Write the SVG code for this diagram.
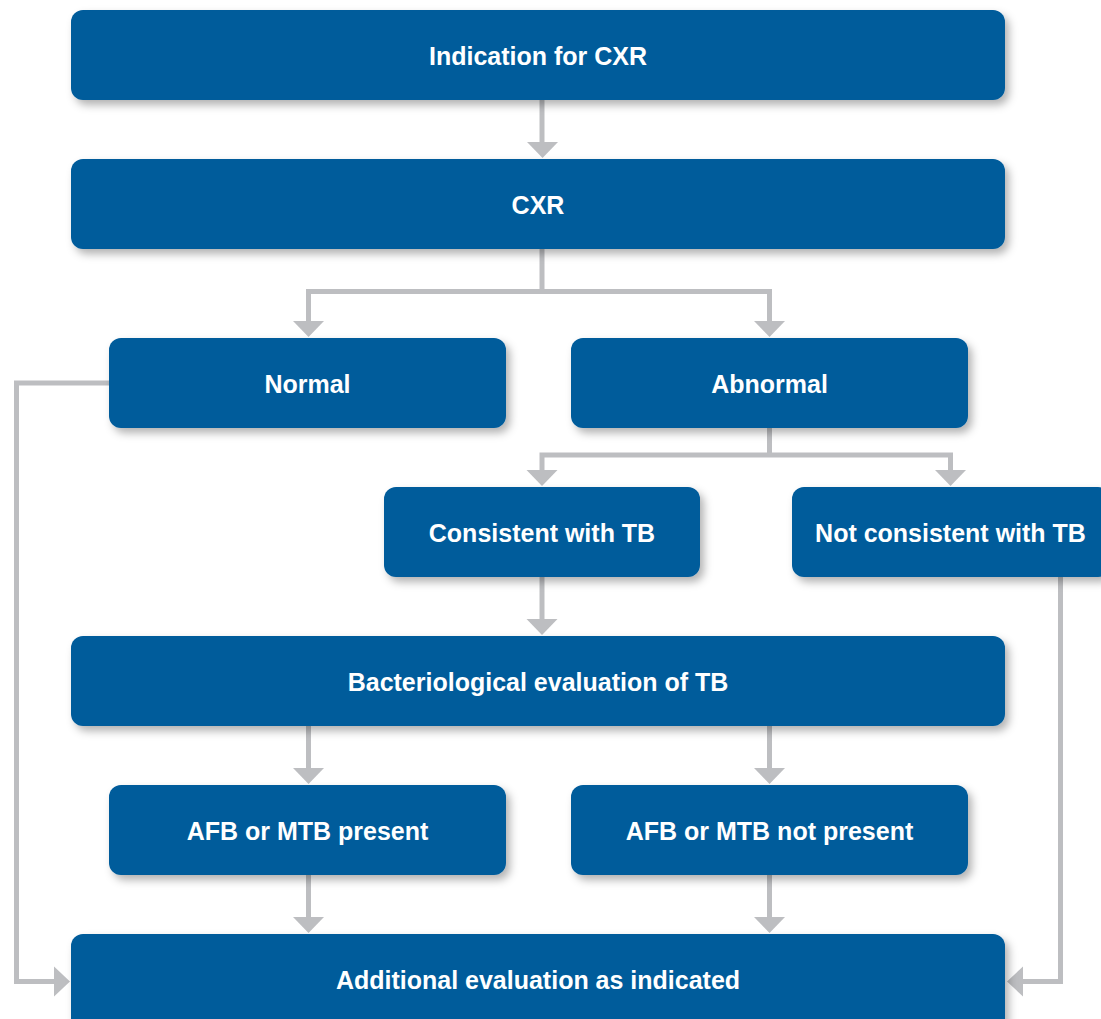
<svg xmlns="http://www.w3.org/2000/svg" width="1101" height="1019" viewBox="0 0 1101 1019">
<defs>
<filter id="sh" x="-10%" y="-20%" width="130%" height="160%">
<feDropShadow dx="4" dy="5" stdDeviation="4" flood-color="#000" flood-opacity="0.3"/>
</filter>
</defs>
<style>
.box{fill:#005C9B;filter:url(#sh)}
.lbl{fill:#fff;font-family:"Liberation Sans",Arial,sans-serif;font-weight:bold;font-size:25px;text-anchor:middle}
.ln{fill:none;stroke:#BDBEC1;stroke-width:5}
.hd{fill:#BDBEC1}
</style>
<rect width="1101" height="1019" fill="#fff"/>
<g id="connectors">
<path class="ln" d="M542 100V143"/>
<polygon class="hd" points="527,142 558,142 542.5,158"/>
<path class="ln" d="M542 249V291.5M308.5 291.5H769.5M308.5 289V322M769.5 289V322"/>
<polygon class="hd" points="293,321 324,321 308.5,337"/>
<polygon class="hd" points="754,321 785,321 769.5,337"/>
<path class="ln" d="M769.5 428V455M542 455H950.5M542 452.5V471M950.5 452.5V471"/>
<polygon class="hd" points="526.5,470 557.5,470 542,486"/>
<polygon class="hd" points="935,470 966,470 950.5,486"/>
<path class="ln" d="M542 577V620"/>
<polygon class="hd" points="526.5,619 557.5,619 542,635"/>
<path class="ln" d="M308.5 726V769M769.5 726V769"/>
<polygon class="hd" points="293,768 324,768 308.5,784"/>
<polygon class="hd" points="754,768 785,768 769.5,784"/>
<path class="ln" d="M308.5 875V918M769.5 875V918"/>
<polygon class="hd" points="293,917 324,917 308.5,933"/>
<polygon class="hd" points="754,917 785,917 769.5,933"/>
<path class="ln" d="M109 383H16.5V981.5H55"/>
<polygon class="hd" points="54,966.5 54,996.5 70,981.5"/>
<path class="ln" d="M1060.5 577V981.5H1022"/>
<polygon class="hd" points="1023,966.5 1023,996.5 1007,981.5"/>
</g>
<g id="n1"><rect class="box" x="71" y="10" width="934" height="90" rx="12"/><text class="lbl" x="538" y="65">Indication for CXR</text></g>
<g id="n2"><rect class="box" x="71" y="159" width="934" height="90" rx="12"/><text class="lbl" x="538" y="214">CXR</text></g>
<g id="n3"><rect class="box" x="109" y="338" width="397" height="90" rx="12"/><text class="lbl" x="307.5" y="393">Normal</text></g>
<g id="n4"><rect class="box" x="571" y="338" width="397" height="90" rx="12"/><text class="lbl" x="769.5" y="393">Abnormal</text></g>
<g id="n5"><rect class="box" x="384" y="487" width="316" height="90" rx="12"/><text class="lbl" x="542" y="542">Consistent with TB</text></g>
<g id="n6"><rect class="box" x="792" y="487" width="318" height="90" rx="12"/><text class="lbl" x="950.5" y="542">Not consistent with TB</text></g>
<g id="n7"><rect class="box" x="71" y="636" width="934" height="90" rx="12"/><text class="lbl" x="538" y="691">Bacteriological evaluation of TB</text></g>
<g id="n8"><rect class="box" x="109" y="785" width="397" height="90" rx="12"/><text class="lbl" x="307.5" y="840">AFB or MTB present</text></g>
<g id="n9"><rect class="box" x="571" y="785" width="397" height="90" rx="12"/><text class="lbl" x="769.5" y="840">AFB or MTB not present</text></g>
<g id="n10"><rect class="box" x="71" y="934" width="934" height="100" rx="12"/><text class="lbl" x="538" y="989">Additional evaluation as indicated</text></g>
</svg>
